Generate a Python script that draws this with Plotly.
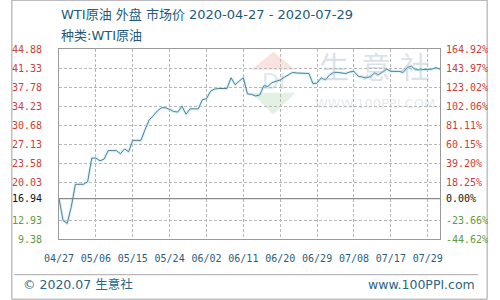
import pandas as pd
import plotly.graph_objects as go

# ---- data ----
start_date = "2020-04-27"
end_date = "2020-07-29"
prices = [
    16.94, 12.8, 12.3, 15.4, 19.6, 19.6, 19.6, 20.1, 24.5, 24.5,
    24.0, 24.3, 25.9, 25.9, 25.9, 25.3, 26.2, 25.7, 27.8, 27.8,
    27.8, 29.8, 31.6, 32.4, 33.3, 33.9, 33.9, 33.6, 33.2, 33.1,
    34.2, 32.7, 33.7, 33.7, 33.7, 35.4, 35.6, 37.0, 37.4, 37.5,
    37.5, 37.5, 39.5, 38.2, 38.9, 39.5, 36.5, 36.4, 36.1, 36.3,
    38.0, 37.9, 38.6, 38.8, 39.1, 39.6, 40.0, 40.5, 40.4, 40.4,
    40.4, 40.3, 38.4, 38.5, 39.5, 39.1, 40.0, 40.5, 40.5, 40.4,
    40.3, 40.6, 40.7, 39.8, 39.6, 39.5, 39.7, 40.4, 40.1, 40.6,
    41.1, 40.7, 40.7, 40.7, 40.5, 41.4, 41.7, 41.0, 41.0, 41.0,
    41.0, 41.1, 41.4, 41.1,
]
base_price = 16.94
y_ticks = [9.38, 12.93, 16.94, 20.03, 23.58, 27.13, 30.68, 34.23, 37.78, 41.33, 44.88]
y_labels = ["9.38", "12.93", "16.94", "20.03", "23.58", "27.13", "30.68", "34.23", "37.78", "41.33", "44.88"]
pct_labels = ["-44.62%", "-23.66%", "0.00%", "18.25%", "39.20%", "60.15%", "81.11%", "102.06%", "123.02%", "143.97%", "164.92%"]
x_ticks = ["2020-04-27", "2020-05-06", "2020-05-15", "2020-05-24", "2020-06-02", "2020-06-11",
           "2020-06-20", "2020-06-29", "2020-07-08", "2020-07-17", "2020-07-26"]
x_labels = ["04/27", "05/06", "05/15", "05/24", "06/02", "06/11", "06/20", "06/29", "07/08", "07/17", "07/29"]

dates = pd.date_range(start_date, end_date, freq="D")

RED = "#c8413b"
GREEN = "#5c9a46"
BLACK = "#111111"


def colored(vals, labels):
    out = []
    for v, t in zip(vals, labels):
        c = RED if v > base_price else (GREEN if v < base_price else BLACK)
        out.append(f'<span style="color:{c}">{t}</span>')
    return out


fig = go.Figure()
fig.add_trace(go.Scatter(x=dates, y=prices, mode="lines",
                         line=dict(color="rgba(160,225,240,0.4)", width=3),
                         hoverinfo="skip", showlegend=False))
fig.add_trace(go.Scatter(x=dates, y=prices, mode="lines",
                         line=dict(color="#517f99", width=1), showlegend=False))
fig.add_trace(go.Scatter(x=dates, y=prices, mode="lines", yaxis="y2",
                         line=dict(color="rgba(0,0,0,0)", width=0),
                         hoverinfo="skip", showlegend=False))

fig.add_hline(y=base_price, line=dict(color="#8a8a8a", width=1.2), layer="above")

mono = "DejaVu Sans Mono"
grid = dict(showgrid=True, gridcolor="#b8b8b8", griddash="3px,2px", gridwidth=1)
fig.update_layout(
    width=500, height=300,
    margin=dict(l=50, r=50, t=49, b=61),
    paper_bgcolor="white", plot_bgcolor="white",
    xaxis=dict(
        type="date", range=[start_date, end_date],
        tickvals=x_ticks, ticktext=x_labels,
        tickfont=dict(family=mono, size=10, color="#2c5d7c"),
        ticks="outside", ticklen=10, tickcolor="rgba(0,0,0,0)",
        showline=True, linecolor="#9a9a9a", linewidth=1, mirror=True,
        zeroline=False, **grid,
    ),
    yaxis=dict(
        range=[y_ticks[0], y_ticks[-1]],
        tickvals=y_ticks, ticktext=colored(y_ticks, y_labels),
        tickfont=dict(family=mono, size=10),
        ticks="outside", ticklen=14, tickcolor="rgba(0,0,0,0)",
        showline=True, linecolor="#9a9a9a", linewidth=1, mirror=True,
        zeroline=False, **grid,
    ),
    yaxis2=dict(
        overlaying="y", side="right",
        range=[y_ticks[0], y_ticks[-1]],
        tickvals=y_ticks, ticktext=colored(y_ticks, pct_labels),
        tickfont=dict(family=mono, size=10),
        showgrid=False, zeroline=False,
        ticks="outside", ticklen=3, tickcolor="rgba(0,0,0,0)",
    ),
    font=dict(family="DejaVu Sans, Noto Sans CJK SC"),
)

title_color = "#235a7a"
ann = [
    dict(text="WTI原油 外盘 市场价 2020-04-27 - 2020-07-29", x=50, y=15, size=13, color=title_color, anchor="left"),
    dict(text="种类:WTI原油", x=50, y=36, size=13, color=title_color, anchor="left"),
    dict(text="© 2020.07 生意社", x=10, y=285, size=12.5, color="#2b6485", anchor="left"),
    dict(text="www.100PPI.com", x=489, y=285, size=12.5, color="#2b6485", anchor="right"),
    dict(text="生", x=339, y=68, size=30, color="rgba(170,190,205,0.45)", anchor="center"),
    dict(text="意", x=383, y=68, size=30, color="rgba(170,190,205,0.45)", anchor="center"),
    dict(text="社", x=424, y=68, size=30, color="rgba(170,190,205,0.45)", anchor="center"),
    dict(text="WWW.100PPI.COM", x=382, y=104, size=13, color="rgba(190,200,210,0.4)", anchor="center"),
]
px_w, px_h = 400.0, 190.0
for a in ann:
    fig.add_annotation(text=a["text"], xref="paper", yref="paper",
                       x=(a["x"] - 50) / px_w, y=(239.3 - a["y"]) / px_h,
                       xanchor=a["anchor"], yanchor="middle", showarrow=False,
                       font=dict(size=a["size"], color=a["color"],
                                 family="DejaVu Sans, Noto Sans CJK SC"))


def px(xp):
    return (xp - 50) / px_w


def py(yp):
    return (239.3 - yp) / px_h


# outer border and footer separator
fig.add_shape(type="rect", xref="paper", yref="paper",
              x0=px(0.5), x1=px(499.5), y0=py(299.5), y1=py(0.5),
              line=dict(color="#a0a0a0", width=1), layer="below")
fig.add_shape(type="line", xref="paper", yref="paper",
              x0=px(3), x1=px(490), y0=py(275), y1=py(275),
              line=dict(color="#a8a8a8", width=1))
# watermark logo (diamond: red top, green bottom)
fig.add_shape(type="path", xref="paper", yref="paper",
              path=f"M {px(275)},{py(52)} L {px(298)},{py(70)} L {px(252)},{py(70)} Z",
              fillcolor="rgba(235,140,130,0.25)", line=dict(width=0), layer="below")
fig.add_shape(type="path", xref="paper", yref="paper",
              path=f"M {px(252)},{py(93)} L {px(298)},{py(93)} L {px(275)},{py(115)} Z",
              fillcolor="rgba(140,200,140,0.25)", line=dict(width=0), layer="below")
fig.add_annotation(text="DI", xref="paper", yref="paper", x=px(275), y=py(82),
                   showarrow=False, xanchor="center", yanchor="middle",
                   font=dict(size=22, color="rgba(150,175,205,0.3)", family="DejaVu Sans"))

fig.write_html("out.html")
